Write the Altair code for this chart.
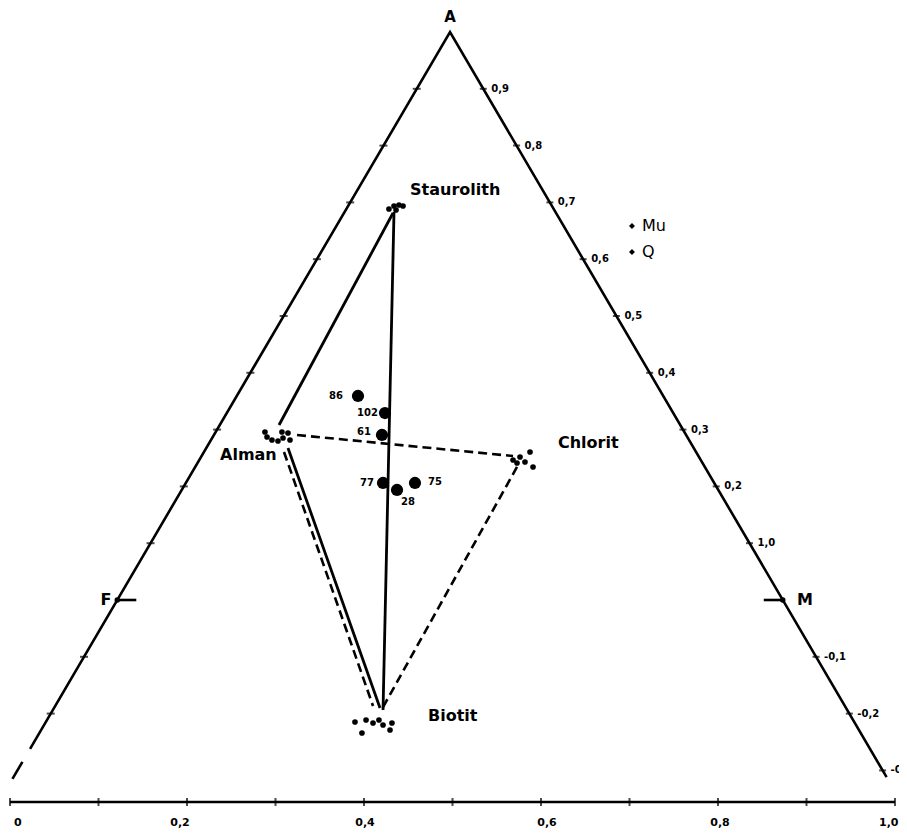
import altair as alt
import pandas as pd

# ---- triangle geometry (U = bottom-axis value, A = value on the right edge) ----
APEX_U = 0.4972          # U position of apex A
EDGE_SLOPE = 0.376       # change in U per unit of A along each edge
LEFT_SOLID_END = -0.262
LEFT_DASH = [-0.285, -0.315]
RIGHT_END = -0.312
AXIS_A = -0.3556         # level of the bottom axis
AXIS_LABEL_A = -0.3926

# ---- edge ticks and labels ----
right_tick_A = [0.9, 0.8, 0.7, 0.6, 0.5, 0.4, 0.3, 0.2, 0.1, -0.1, -0.2, -0.3]
right_tick_labels = ["0,9", "0,8", "0,7", "0,6", "0,5", "0,4", "0,3", "0,2", "1,0", "-0,1", "-0,2", "-0,3"]
left_tick_A = [0.9, 0.8, 0.7, 0.6, 0.5, 0.4, 0.3, 0.2, 0.1, -0.1, -0.2]

# ---- bottom axis ----
bottom_ticks = [0.0, 0.1, 0.2, 0.3, 0.4, 0.5, 0.6, 0.7, 0.8, 0.9, 1.0]
bottom_labels = ["0", "0,2", "0,4", "0,6", "0,8", "1,0"]
bottom_label_u = [0.0045, 0.1921, 0.4011, 0.6068, 0.8023, 1.0040]
bottom_label_align = ["left", "center", "center", "center", "center", "right"]

# ---- mineral clusters (small dots) ----
stau_u = [0.4282, 0.4339, 0.4395, 0.4441, 0.4362]
stau_a = [0.6884, 0.6937, 0.6954, 0.6937, 0.6866]
alm_u = [0.2881, 0.2904, 0.2960, 0.3028, 0.3085, 0.3073, 0.3141, 0.3164]
alm_a = [0.2958, 0.2870, 0.2817, 0.2799, 0.2852, 0.2958, 0.2940, 0.2817]
chl_u = [0.5684, 0.5763, 0.5876, 0.5819, 0.5910, 0.5729]
chl_a = [0.2465, 0.2518, 0.2606, 0.2430, 0.2342, 0.2412]
bio_u = [0.3898, 0.3977, 0.4023, 0.4102, 0.4169, 0.4215, 0.4316, 0.4294]
bio_a = [-0.2148, -0.2342, -0.2113, -0.2165, -0.2113, -0.2201, -0.2165, -0.2289]

mineral_names = ["Staurolith", "Alman", "Chlorit", "Biotit"]
mineral_label_u = [0.4520, 0.2373, 0.6192, 0.4723]
mineral_label_a = [0.7218, 0.2553, 0.2764, -0.2042]

# ---- samples (large dots) ----
sample_ids = ["86", "102", "61", "77", "28", "75"]
sample_u = [0.3932, 0.4237, 0.4203, 0.4215, 0.4373, 0.4576]
sample_a = [0.3592, 0.3292, 0.2905, 0.2060, 0.1937, 0.2060]
sample_label_u = [0.3763, 0.4158, 0.4079, 0.4113, 0.4497, 0.4723]
sample_label_a = [0.3592, 0.3292, 0.2958, 0.2060, 0.1725, 0.2077]
sample_label_align = ["right", "right", "right", "right", "center", "left"]

# ---- tie lines ----
tie_names = ["st_bi", "st_al", "al_bi", "al_bi2", "al_ch", "ch_bi"]
tie_u0 = [0.4339, 0.4328, 0.3141, 0.3096, 0.3243, 0.5729]
tie_a0 = [0.6831, 0.6813, 0.2676, 0.2606, 0.2905, 0.2342]
tie_u1 = [0.4215, 0.3040, 0.4181, 0.4102, 0.5684, 0.4203]
tie_a1 = [-0.1937, 0.3081, -0.1901, -0.1866, 0.2535, -0.1919]
tie_dashed = [False, False, False, True, True, True]

# ---- Mu / Q ----
proj_names = ["Mu", "Q"]
proj_u = [0.7028, 0.7028]
proj_a = [0.6585, 0.6127]
proj_label_u = 0.7141

FONT = "DejaVu Sans"

def u_left(a):
    return APEX_U - EDGE_SLOPE * (1 - a)

def u_right(a):
    return APEX_U + EDGE_SLOPE * (1 - a)

# plot area covers page pixels 8..899 (x) and 8..828 (y)
xs = alt.Scale(domain=[(8 - 10) / 885, (899 - 10) / 885], nice=False, zero=False)
ys = alt.Scale(domain=[(600 - 828) / 568, (600 - 8) / 568], nice=False, zero=False)

def X(f="u"):
    return alt.X(f"{f}:Q", scale=xs, axis=None)

def Y(f="a"):
    return alt.Y(f"{f}:Q", scale=ys, axis=None)

layers = []

# triangle edges
edge_df = pd.DataFrame({
    "u": [u_left(LEFT_SOLID_END), APEX_U, u_right(RIGHT_END)],
    "a": [LEFT_SOLID_END, 1.0, RIGHT_END],
    "o": [0, 1, 2],
})
layers.append(alt.Chart(edge_df).mark_line(color="black", strokeWidth=2.6, strokeJoin="miter").encode(
    x=X(), y=Y(), order="o:Q"))
dash_df = pd.DataFrame({"u": [u_left(v) for v in LEFT_DASH], "a": LEFT_DASH})
layers.append(alt.Chart(dash_df).mark_line(color="black", strokeWidth=2.6).encode(x=X(), y=Y()))

# edge ticks
lt = pd.DataFrame({"u": [u_left(v) for v in left_tick_A], "a": left_tick_A})
layers.append(alt.Chart(lt).mark_tick(color="black", orient="horizontal", size=8, thickness=2).encode(x=X(), y=Y()))
rt = pd.DataFrame({"u": [u_right(v) for v in right_tick_A], "a": right_tick_A, "t": right_tick_labels})
layers.append(alt.Chart(rt).mark_tick(color="black", orient="horizontal", size=7, thickness=2).encode(x=X(), y=Y()))
layers.append(alt.Chart(rt).mark_text(align="left", baseline="middle", dx=8, font=FONT, fontSize=10,
                                      fontWeight="bold", color="black").encode(x=X(), y=Y(), text="t:N"))

# bottom axis
ax_df = pd.DataFrame({"u": [0.0, 1.0], "a": [AXIS_A, AXIS_A]})
layers.append(alt.Chart(ax_df).mark_line(color="black", strokeWidth=2.6).encode(x=X(), y=Y()))
bt = pd.DataFrame({"u": bottom_ticks, "a": [AXIS_A] * len(bottom_ticks)})
layers.append(alt.Chart(bt).mark_tick(color="black", orient="vertical", size=8, thickness=2).encode(x=X(), y=Y()))
bl = pd.DataFrame({"u": bottom_label_u, "a": [AXIS_LABEL_A] * len(bottom_label_u), "t": bottom_labels,
                   "al": bottom_label_align})
for al in ["left", "center", "right"]:
    layers.append(alt.Chart(bl[bl.al == al]).mark_text(
        align=al, baseline="middle", font=FONT, fontSize=11, fontWeight="bold", color="black"
    ).encode(x=X(), y=Y(), text="t:N"))

# F and M markers
fm_pts = pd.DataFrame({"u": [u_left(0.0), u_right(0.0)], "a": [0.0, 0.0]})
layers.append(alt.Chart(fm_pts).mark_point(filled=True, color="black", size=30, opacity=1).encode(x=X(), y=Y()))
fm_lines = pd.DataFrame({
    "u": [u_left(0.0), u_left(0.0) + 0.0215, u_right(0.0) - 0.0215, u_right(0.0)],
    "a": [0.0, 0.0, 0.0, 0.0],
    "g": ["F", "F", "M", "M"],
})
layers.append(alt.Chart(fm_lines).mark_line(color="black", strokeWidth=2.6).encode(x=X(), y=Y(), detail="g:N"))
fm_txt = pd.DataFrame({"u": [u_left(0.0) - 0.0065, u_right(0.0) + 0.0161], "a": [0.0, 0.0],
                       "t": ["F", "M"], "al": ["right", "left"]})
for al in ["right", "left"]:
    layers.append(alt.Chart(fm_txt[fm_txt.al == al]).mark_text(
        align=al, baseline="middle", font=FONT, fontSize=16, fontWeight="bold", color="black"
    ).encode(x=X(), y=Y(), text="t:N"))

# apex label
apex_df = pd.DataFrame({"u": [APEX_U], "a": [1.0265], "t": ["A"]})
layers.append(alt.Chart(apex_df).mark_text(align="center", baseline="middle", font=FONT, fontSize=15,
                                           fontWeight="bold", color="black").encode(x=X(), y=Y(), text="t:N"))

# tie lines
rows = []
for n, u0, a0, u1, a1, d in zip(tie_names, tie_u0, tie_a0, tie_u1, tie_a1, tie_dashed):
    rows.append({"seg": n, "u": u0, "a": a0, "o": 0, "d": d})
    rows.append({"seg": n, "u": u1, "a": a1, "o": 1, "d": d})
tie_df = pd.DataFrame(rows)
layers.append(alt.Chart(tie_df[~tie_df.d]).mark_line(color="black", strokeWidth=2.8).encode(
    x=X(), y=Y(), detail="seg:N", order="o:Q"))
layers.append(alt.Chart(tie_df[tie_df.d]).mark_line(color="black", strokeWidth=2.6, strokeDash=[9, 5]).encode(
    x=X(), y=Y(), detail="seg:N", order="o:Q"))

# mineral clusters
cl_df = pd.DataFrame({"u": stau_u + alm_u + chl_u + bio_u, "a": stau_a + alm_a + chl_a + bio_a})
layers.append(alt.Chart(cl_df).mark_circle(color="black", size=32, opacity=1).encode(x=X(), y=Y()))
ml = pd.DataFrame({"u": mineral_label_u, "a": mineral_label_a, "t": mineral_names})
layers.append(alt.Chart(ml).mark_text(align="left", baseline="middle", font=FONT, fontSize=16,
                                      fontWeight="bold", color="black").encode(x=X(), y=Y(), text="t:N"))

# samples
sp = pd.DataFrame({"u": sample_u, "a": sample_a})
layers.append(alt.Chart(sp).mark_circle(color="black", size=150, opacity=1).encode(x=X(), y=Y()))
sl = pd.DataFrame({"u": sample_label_u, "a": sample_label_a, "t": sample_ids, "al": sample_label_align})
for al in ["right", "center", "left"]:
    layers.append(alt.Chart(sl[sl.al == al]).mark_text(
        align=al, baseline="middle", font=FONT, fontSize=10, fontWeight="bold", color="black"
    ).encode(x=X(), y=Y(), text="t:N"))

# Mu / Q
pq = pd.DataFrame({"u": proj_u, "a": proj_a, "t": proj_names, "lu": [proj_label_u] * 2})
layers.append(alt.Chart(pq).mark_point(shape="diamond", filled=True, color="black", size=35, opacity=1).encode(
    x=X(), y=Y()))
layers.append(alt.Chart(pq).mark_text(align="left", baseline="middle", font=FONT, fontSize=16,
                                      color="black").encode(x=X("lu"), y=Y(), text="t:N"))

chart = alt.layer(*layers).properties(
    width=891, height=820, padding=0,
    autosize=alt.AutoSizeParams(type="none"),
    background="white",
).configure_view(stroke=None)

chart.save("out.html", embed_options={"renderer": "svg", "actions": False})
